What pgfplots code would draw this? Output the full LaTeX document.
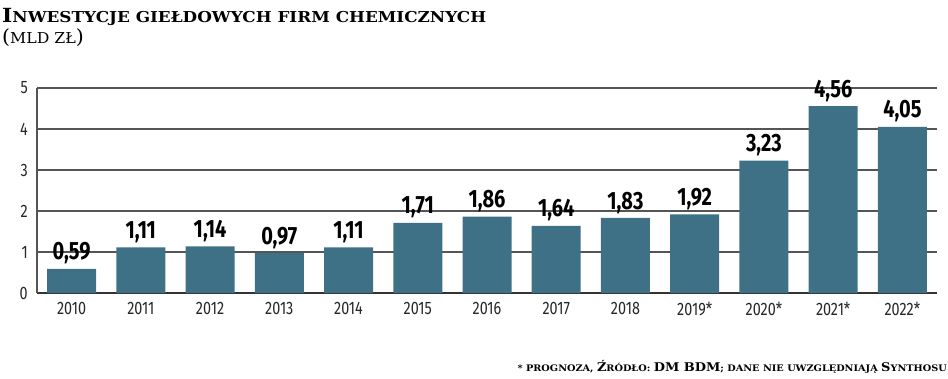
\documentclass[border=0pt]{standalone}
\usepackage{pgfplots}
\pgfplotsset{compat=1.18}
\usepackage{fontspec}
\setmainfont{Fira Sans}
\newfontfamily\titlefont{DejaVu Serif}
\definecolor{barblue}{RGB}{62,112,134}
\definecolor{gridc}{RGB}{85,85,85}
\newcommand\TBig[1]{{\fontsize{19.5}{20}\selectfont #1}}
\newcommand\TSm[1]{{\fontsize{15}{15}\selectfont #1}}
\newcommand\FB[1]{{\fontsize{12}{12}\selectfont #1}}
\newcommand\FS[1]{{\fontsize{9}{9}\selectfont #1}}
\begin{document}
\begin{tikzpicture}
\path[use as bounding box] (0pt,0pt) rectangle (948pt,-378pt);
\node[anchor=base west, inner sep=0, xscale=1.12] at (2pt,-22pt) {\titlefont\bfseries \TBig{I}\TSm{NWESTYCJE GIEŁDOWYCH FIRM CHEMICZNYCH}};
\node[anchor=base west, inner sep=0, xscale=1.05] at (2pt,-43pt) {\titlefont \TBig{(}\TSm{MLD ZŁ}\TBig{)}};
\node[anchor=base east, inner sep=0, xscale=1.08] at (947pt,-371pt) {\titlefont\bfseries \FS{* PROGNOZA, }\FB{Ź}\FS{RÓDŁO: }\FB{DM BDM}\FS{; DANE NIE UWZGLĘDNIAJĄ }\FB{S}\FS{YNTHOSU}};
\begin{axis}[
  at={(37pt,-293pt)}, anchor=south west,
  scale only axis, width=900pt, height=205pt,
  xmin=-0.5, xmax=12.5, ymin=0, ymax=5,
  ytick={0,1,2,3,4,5},
  xtick={0,...,12},
  xticklabels={2010,2011,2012,2013,2014,2015,2016,2017,2018,2019*,2020*,2021*,2022*},
  axis x line*=bottom, axis y line*=left,
  axis line style={-, gridc, line width=1.5pt},
  x axis line style={black!80},
  major tick length=0pt,
  ymajorgrids, major grid style={gridc, line width=1.5pt},
  /pgf/number format/assume math mode=true,
  tick label style={font=\fontsize{18}{18}\selectfont, text=black!85, xscale=0.8},
  yticklabel style={xshift=-8pt},
  xticklabel style={yshift=-6pt},
  ybar, bar width=49pt,
  nodes near coords,
  every node near coord/.append style={font=\bfseries\fontsize{25}{25}\selectfont, xscale=0.8, text=black, yshift=1pt},
  nodes near coords style={/pgf/number format/.cd, use comma, fixed, fixed zerofill, precision=2, assume math mode=true},
  clip=false,
]
\addplot[draw=none, fill=barblue] coordinates {
(0,0.59) (1,1.11) (2,1.14) (3,0.97) (4,1.11) (5,1.71) (6,1.86) (7,1.64) (8,1.83) (9,1.92) (10,3.23) (11,4.56) (12,4.05)
};
\end{axis}
\end{tikzpicture}
\end{document}
